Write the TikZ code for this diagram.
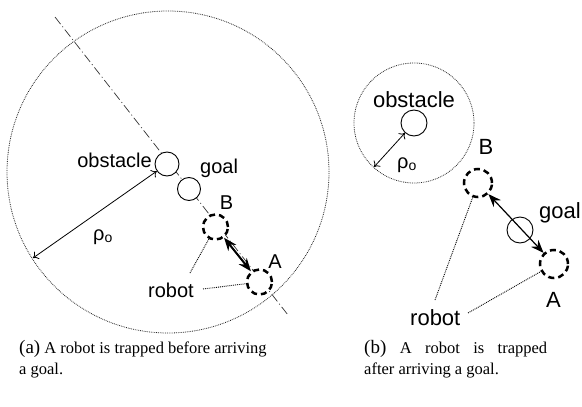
\documentclass[tikz,border=0pt]{standalone}
\usepackage{fontspec}
\setmainfont{Liberation Serif}
\setsansfont{Liberation Sans}
\usetikzlibrary{arrows.meta}

\begin{document}
\begin{tikzpicture}[x=1pt, y=-1pt,
    zone/.style={densely dotted, line width=0.8pt, black!85},
    obst/.style={circle, draw, line width=0.9pt, fill=white, minimum size=24pt, inner sep=0pt},
    robot/.style={circle, draw, line width=2.5pt, dash pattern=on 6pt off 4pt, fill=white, minimum size=25pt, inner sep=0pt},
    leader/.style={densely dotted, line width=0.9pt},
    rhoarrow/.style={{To[length=5pt,width=9pt]}-{To[length=5pt,width=9pt]}, line width=0.8pt},
    push/.style={{Stealth[length=13pt,width=10pt]}-{Stealth[length=13pt,width=10pt]}},
    lbl/.style={font=\sffamily\fontsize{20}{24}\selectfont, inner sep=0pt},
    lblb/.style={font=\sffamily\fontsize{22}{26}\selectfont, inner sep=0pt},
    captext/.style={font=\fontsize{16.5}{21}\selectfont, inner sep=0pt, anchor=north west}]
    \useasboundingbox (0,0) rectangle (582,407);

    % (a) trapped before the goal
    \coordinate (line1) at (55,17);
    \coordinate (line2) at (288,315);
    \draw[line width=0.7pt, black!80, dash pattern=on 9pt off 3pt on 1pt off 3pt] (line1) -- (line2);
    \coordinate (zone1) at (168,172);
    \draw[zone] (zone1) circle[radius=161pt];

    \node[obst] (obsa) at (167,164) {};
    \node[obst, minimum size=23pt] (goala) at (189,189) {};
    \node[robot] (ba) at (215.5,227) {};
    \node[robot] (aa) at (259.5,282) {};

    \coordinate (rhoa) at (33,258);
    \draw[rhoarrow] (obsa) -- (rhoa);
    \draw[push, line width=2pt] (ba) -- (aa);

    \node[lbl, anchor=base east] (obslbla) at (152,167) {obstacle};
    \node[lbl, anchor=base west] (goallbla) at (200,173) {goal};
    \node[lbl, anchor=base] (blbla) at (226.5,209) {B};
    \node[lbl, anchor=base] (albla) at (275,268) {A};
    \node[lbl, anchor=base west] (robotlbla) at (148,297) {robot};
    \node[lbl, anchor=base west] (rholbla) at (93,240) {ρ\raisebox{-2pt}{\fontsize{14}{14}\selectfont o}};

    \coordinate (lda) at (203,289);
    \coordinate (ldb) at (190,273);
    \draw[leader] (lda) -- (aa);
    \draw[leader] (ldb) -- (ba);

    % (b) trapped after the goal
    \coordinate (zone2) at (414,123);
    \draw[zone] (zone2) circle[radius=60pt];
    \node[obst, minimum size=26pt] (obsb) at (zone2) {};
    \node[robot, minimum size=28pt] (bb) at (478,183) {};
    \node[robot, minimum size=28pt] (ab) at (554,264) {};
    \draw[push, line width=1.2pt] (bb) -- (ab);
    \node[obst, minimum size=26pt, fill=none] (goalb) at (520,230) {};

    \coordinate (rhob) at (374,167);
    \draw[rhoarrow] (obsb) -- (rhob);

    \node[lblb, anchor=base] (obslblb) at (414,107) {obstacle};
    \node[lblb, anchor=base west] (goallblb) at (539,218) {goal};
    \node[lblb, anchor=base] (blblb) at (486,154) {B};
    \node[lblb, anchor=base] (alblb) at (553.5,307) {A};
    \node[lblb, anchor=base west] (robotlblb) at (410,325) {robot};
    \node[lbl, anchor=base west] (rholblb) at (397,168) {ρ\raisebox{-2pt}{\fontsize{14}{14}\selectfont o}};

    \coordinate (ldc) at (468,313);
    \coordinate (ldd) at (435,300);
    \draw[leader] (ldc) -- (ab);
    \draw[leader] (ldd) -- (bb);

    % captions
    \node[captext, align=left] (capa) at (19,340) {{\fontsize{19}{19}\selectfont(a)} A robot is trapped before arriving\\a goal.};
    \node[captext, text width=183pt, align=justify] (capb) at (364,340) {{\fontsize{19}{19}\selectfont(b)} A robot is trapped\linebreak after arriving a goal.};
\end{tikzpicture}
\end{document}
